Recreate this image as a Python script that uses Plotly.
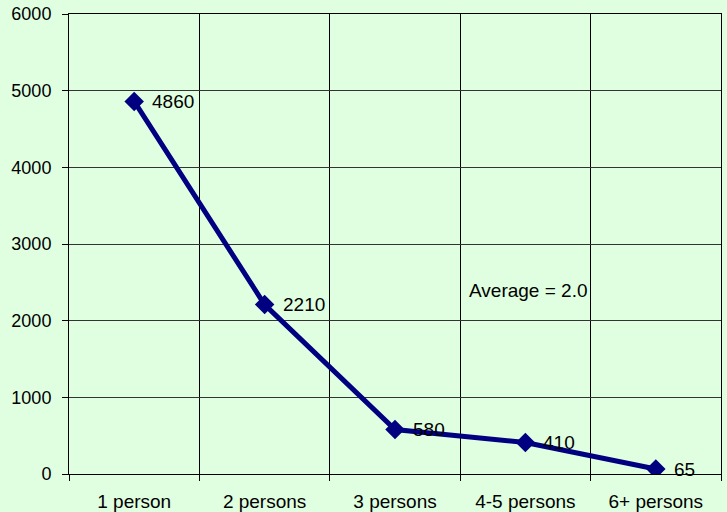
import plotly.graph_objects as go

categories = ["1 person", "2 persons", "3 persons", "4-5 persons", "6+ persons"]
values = [4860, 2210, 580, 410, 65]
label_texts = ["4860", "2210", "580", "410", "65"]
note_text = "Average = 2.0"

BG = "#E0FFE0"
FONT = "Liberation Sans, Arial, sans-serif"

fig = go.Figure()
fig.add_trace(go.Scatter(
    x=categories, y=values, mode="lines+markers",
    line=dict(color="#000080", width=5),
    marker=dict(symbol="diamond", size=15, color="#000080"),
    hoverinfo="x+y", showlegend=False,
))

for c, v, t in zip(categories, values, label_texts):
    fig.add_annotation(x=c, y=v, text=t, showarrow=False, xanchor="left",
                       yanchor="middle", xshift=16,
                       font=dict(family=FONT, size=19, color="#000000"))

fig.add_annotation(xref="paper", yref="y", x=0.610, y=2390, text=note_text,
                   showarrow=False, xanchor="left", yanchor="middle",
                   font=dict(family=FONT, size=19, color="#000000"))

fig.update_layout(
    width=727, height=512,
    margin=dict(l=69, r=6, t=14, b=38),
    paper_bgcolor=BG, plot_bgcolor=BG,
    font=dict(family=FONT, size=19, color="#000000"),
    xaxis=dict(type="category", tickson="boundaries", showgrid=True,
               gridcolor="#000000", gridwidth=1, ticks="outside", ticklen=6,
               tickcolor="#000000", showline=True, linecolor="#000000",
               mirror=True, ticklabelstandoff=10, range=[-0.5, 4.5],
               automargin=False),
    yaxis=dict(range=[0, 6000], dtick=1000, showgrid=True,
               gridcolor="#333333", gridwidth=1, ticks="outside", ticklen=6,
               tickcolor="#000000", showline=True, linecolor="#000000",
               mirror=True, zeroline=False, ticklabelstandoff=7,
               tickfont=dict(size=18), automargin=False),
)

fig.write_html("out.html", config={"displayModeBar": False},
               post_script="document.body.style.margin='0px';document.body.style.background='#E0FFE0';document.body.style.overflow='hidden';")
